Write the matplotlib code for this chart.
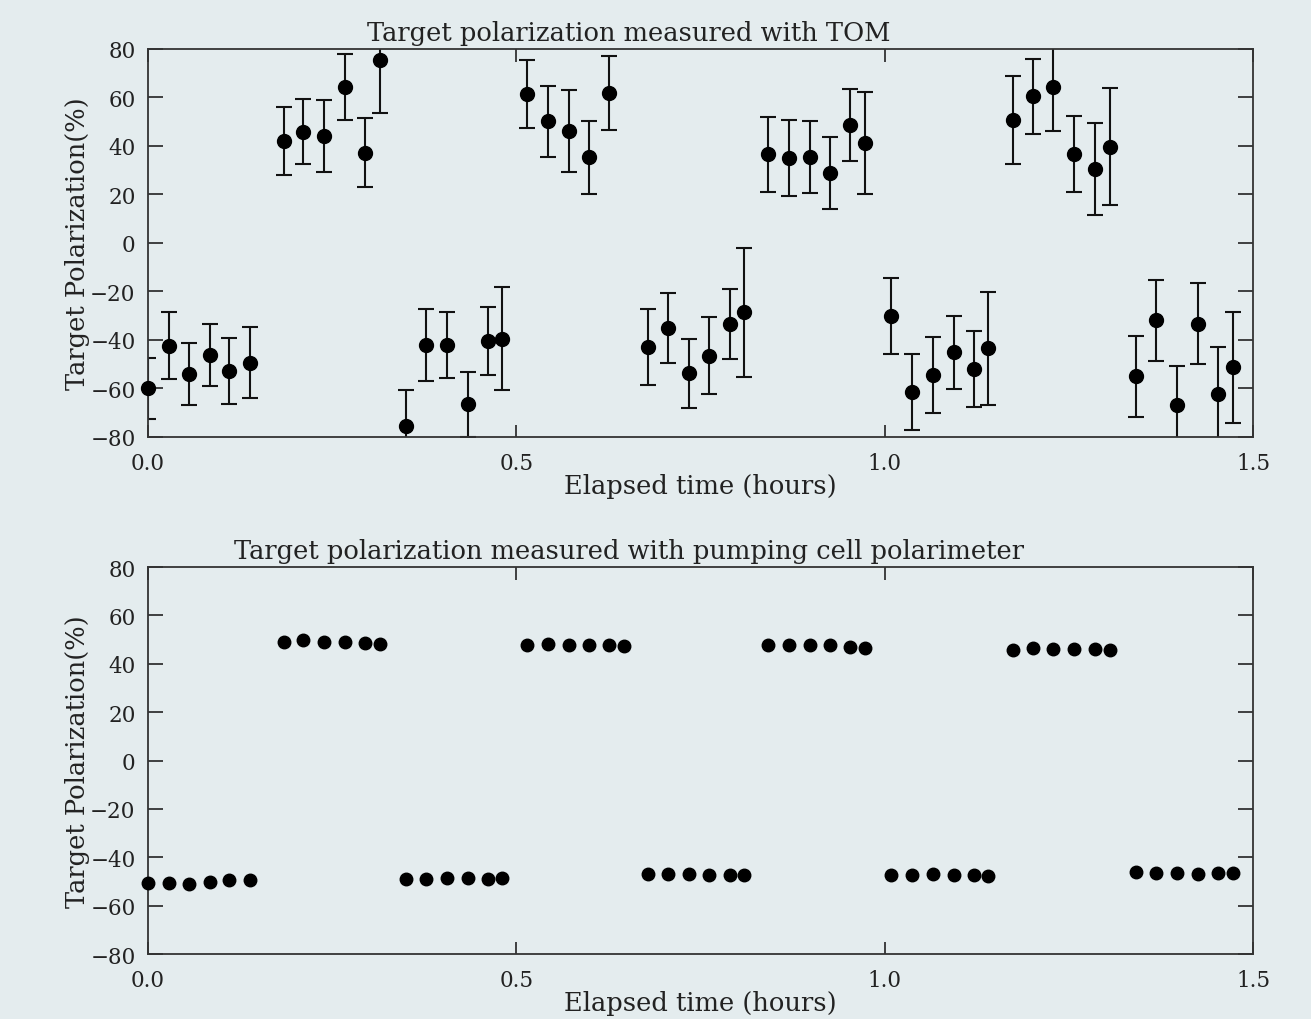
import numpy as np
import matplotlib
matplotlib.use("Agg")
import matplotlib.pyplot as plt

# elapsed time of each measurement (hours)
hours_tom = [0.000, 0.029, 0.056, 0.084, 0.110, 0.139,
             0.184, 0.211, 0.239, 0.267, 0.295, 0.315,
             0.350, 0.378, 0.406, 0.435, 0.461, 0.481,
             0.515, 0.543, 0.571, 0.598, 0.626,
             0.679, 0.706, 0.734, 0.762, 0.790, 0.809,
             0.842, 0.870, 0.898, 0.926, 0.953, 0.973,
             1.009, 1.037, 1.066, 1.094, 1.121, 1.140,
             1.174, 1.201, 1.228, 1.257, 1.285, 1.306,
             1.341, 1.368, 1.397, 1.425, 1.452, 1.473]
pol_tom = [-60.0, -42.3, -54.2, -46.1, -52.8, -49.4,
           42.0, 45.8, 44.0, 64.2, 37.3, 75.3,
           -75.3, -42.1, -42.0, -66.5, -40.3, -39.4,
           61.5, 50.1, 46.2, 35.4, 61.9,
           -42.9, -35.0, -53.8, -46.4, -33.4, -28.6,
           36.5, 35.1, 35.6, 28.9, 48.8, 41.2,
           -30.2, -61.3, -54.3, -45.1, -52.0, -43.5,
           50.7, 60.5, 64.5, 36.8, 30.5, 39.7,
           -55.0, -31.9, -66.8, -33.3, -62.1, -51.3]
err_tom = [12.5, 13.7, 12.8, 12.7, 13.6, 14.6,
           14.1, 13.4, 14.8, 13.6, 14.1, 21.6,
           14.8, 15.0, 13.7, 13.4, 14.0, 21.4,
           14.1, 14.8, 16.9, 15.0, 15.2,
           15.8, 14.3, 14.2, 16.0, 14.4, 26.5,
           15.5, 15.6, 14.8, 14.7, 14.8, 20.9,
           15.6, 15.7, 15.7, 15.0, 15.7, 23.2,
           18.3, 15.5, 18.5, 15.7, 19.0, 24.2,
           16.6, 16.6, 15.9, 16.7, 19.2, 22.8]

hours_pc = [0.000, 0.029, 0.056, 0.084, 0.110, 0.139,
            0.184, 0.211, 0.239, 0.267, 0.295, 0.315,
            0.350, 0.378, 0.406, 0.435, 0.461, 0.481,
            0.515, 0.543, 0.571, 0.598, 0.626, 0.646,
            0.679, 0.706, 0.734, 0.762, 0.790, 0.809,
            0.842, 0.870, 0.898, 0.926, 0.953, 0.973,
            1.009, 1.037, 1.066, 1.094, 1.121, 1.140,
            1.174, 1.201, 1.228, 1.257, 1.285, 1.306,
            1.341, 1.368, 1.397, 1.425, 1.452, 1.473]
pol_pc = [-50.6, -50.6, -50.9, -50.2, -49.6, -49.6,
          49.2, 49.7, 49.2, 48.9, 48.6, 48.1,
          -48.9, -48.9, -48.6, -48.6, -48.9, -48.5,
          47.7, 48.1, 47.7, 47.7, 47.7, 47.4,
          -47.1, -47.1, -46.9, -47.4, -47.4, -47.4,
          47.6, 47.8, 47.6, 47.6, 47.0, 46.6,
          -47.2, -47.4, -46.9, -47.4, -47.2, -47.6,
          45.9, 46.4, 46.2, 46.0, 46.0, 45.5,
          -46.2, -46.5, -46.7, -47.0, -46.7, -46.7]

titles = ["Target polarization measured with TOM",
          "Target polarization measured with pumping cell polarimeter"]

paper = "#e4ecee"
ink = "black"
plt.rcParams["font.family"] = "DejaVu Serif"

fig = plt.figure(figsize=(13.11, 10.2), dpi=100, facecolor=paper)
ax_top = fig.add_axes([0.1129, 0.5706, 0.8429, 0.3804])
ax_bot = fig.add_axes([0.1129, 0.0637, 0.8429, 0.3794])

# TOM measurements with error bars
ax_top.errorbar(hours_tom, pol_tom, yerr=err_tom, fmt="none", ecolor="#111111",
                elinewidth=1.5, capsize=5.5, capthick=1.5)
ax_top.plot(hours_tom, pol_tom, "o", color=ink, ms=10, clip_on=False, zorder=3)

# pumping cell polarimeter
ax_bot.plot(hours_pc, pol_pc, "o", color=ink, ms=9, clip_on=False, zorder=3)

for ax, title in zip([ax_top, ax_bot], titles):
    ax.set_facecolor("none")
    ax.set_xlim(0, 1.5)
    ax.set_ylim(-80, 80)
    ax.set_yticks(np.arange(-80, 81, 20))
    ax.set_xticks([0.0, 0.5, 1.0, 1.5])
    ax.set_xticklabels(["0.0", "0.5", "1.0", "1.5"])
    ax.tick_params(axis="y", direction="in", length=11, width=1.2,
                   left=True, right=True, labelsize=15.5, colors="#222222", pad=9)
    ax.tick_params(axis="x", direction="in", length=9, width=1.2,
                   top=True, bottom=True, labelsize=15.5, colors="#222222", pad=11)
    for s in ax.spines.values():
        s.set_linewidth(1.3)
        s.set_color("#333333")
    # titles sit left of the axes centre
    ax.set_title(title, fontsize=18.5, color="#222222", pad=6.5, x=0.435)
    ax.set_xlabel("Elapsed time (hours)", fontsize=18.5, color="#222222", labelpad=-1)
    ax.set_ylabel("Target Polarization(%)", fontsize=18.5, color="#222222", labelpad=0)

fig.savefig("out.png", dpi=100, facecolor=paper)
